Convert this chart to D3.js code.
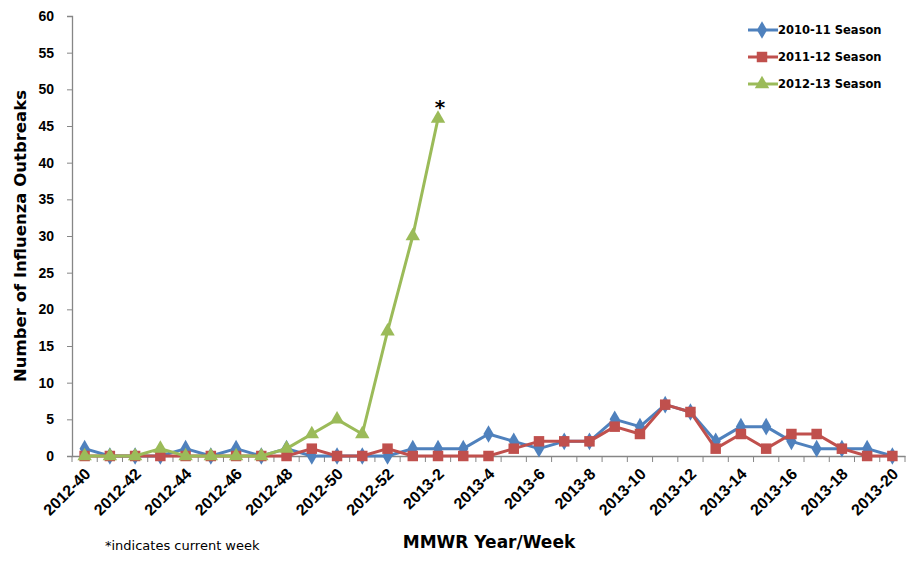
<!DOCTYPE html>
<html>
<head>
<meta charset="utf-8">
<script src="https://cdn.jsdelivr.net/npm/d3@7"></script>
<style>
  body { margin: 0; background: #fff; }
  svg { font-family: "DejaVu Sans", "Open Sans", sans-serif; }
</style>
</head>
<body>
<div id="chart"></div>
<script>
// MMWR weeks 2012-40 .. 2013-20
const weeks = [];
for (let w = 40; w <= 52; w++) weeks.push(`2012-${w}`);
for (let w = 1; w <= 20; w++) weeks.push(`2013-${w}`);

const season1011 = [1,0,0,0,1,0,1,0,1,0,0,0,0,1,1,1,3,2,1,2,2,5,4,7,6,2,4,4,2,1,1,1,0];
const season1112 = [0,0,0,0,0,0,0,0,0,1,0,0,1,0,0,0,0,1,2,2,2,4,3,7,6,1,3,1,3,3,1,0,0];
const season1213 = [0,0,0,1,0,0,0,0,1,3,5,3,17,30,46];

const yTicks = [0,5,10,15,20,25,30,35,40,45,50,55,60];
const seriesNames = ['2010-11 Season', '2011-12 Season', '2012-13 Season'];
const seriesColors = ['#4F81BD', '#C0504D', '#9BBB59'];
const seriesShapes = ['diamond', 'square', 'triangle'];

const width = 920, height = 563;
const margin = {top: 16, right: 15, bottom: 107, left: 72};
const innerW = width - margin.left - margin.right;
const innerH = height - margin.top - margin.bottom;

const svg = d3.select('#chart').append('svg')
  .attr('width', width).attr('height', height);
const g = svg.append('g').attr('transform', `translate(${margin.left},${margin.top})`);

const x = d3.scaleBand().domain(weeks).range([0, innerW]);
const y = d3.scaleLinear().domain([0, 60]).range([innerH, 0]);
const cx = d => x(d) + x.bandwidth() / 2;

// y axis
const yAxis = g.append('g')
  .call(d3.axisLeft(y).tickValues(yTicks).tickSize(5).tickPadding(13));
yAxis.select('.domain').attr('stroke', '#868686').attr('stroke-width', 1.3);
yAxis.selectAll('.tick line').attr('stroke', '#868686');
yAxis.selectAll('.tick text')
  .style('font-size', '14px').style('font-weight', 'bold').attr('fill', '#000');

// x axis
const xAxis = g.append('g').attr('transform', `translate(0,${innerH})`)
  .call(d3.axisBottom(x).tickValues(weeks.filter((d, i) => i % 2 === 0)).tickSize(0).tickPadding(0));
xAxis.select('.domain').attr('stroke', '#868686').attr('stroke-width', 1.3);
xAxis.selectAll('.tick text')
  .style('font-size', '16px').style('font-weight', 'bold').attr('fill', '#000')
  .attr('text-anchor', 'end')
  .attr('transform', 'translate(3,15) rotate(-45)')
  .attr('dy', '0.35em');

const bounds = weeks.map(d => x(d)).concat([x.range()[1]]);
g.append('g').selectAll('line').data(bounds).join('line')
  .attr('x1', d => d).attr('x2', d => d)
  .attr('y1', innerH).attr('y2', innerH + 6)
  .attr('stroke', '#868686');

// axis titles
svg.append('text')
  .attr('transform', 'translate(26,236) rotate(-90)')
  .attr('text-anchor', 'middle')
  .style('font-size', '16.5px').style('font-weight', 'bold')
  .text('Number of Influenza Outbreaks');

svg.append('text')
  .attr('x', 489).attr('y', 548)
  .attr('text-anchor', 'middle')
  .style('font-size', '17px').style('font-weight', 'bold')
  .text('MMWR Year/Week');

svg.append('text')
  .attr('x', 105).attr('y', 550)
  .style('font-size', '13px')
  .text('*indicates current week');

// series
const series = [season1011, season1112, season1213];
const symbolFor = {
  diamond: d3.symbol().type(d3.symbolDiamond).size(90),
  square: d3.symbol().type(d3.symbolSquare).size(110),
  triangle: d3.symbol().type(d3.symbolTriangle).size(90)
};

const line = d3.line().x((d, i) => cx(weeks[i])).y(d => y(d));

series.forEach((vals, s) => {
  const sg = g.append('g');
  sg.append('path').datum(vals)
    .attr('d', line)
    .attr('fill', 'none')
    .attr('stroke', seriesColors[s])
    .attr('stroke-width', 3)
    .attr('stroke-linejoin', 'round');
  sg.selectAll('path.mark').data(vals).join('path')
    .attr('class', 'mark')
    .attr('d', symbolFor[seriesShapes[s]])
    .attr('transform', (d, i) => `translate(${cx(weeks[i])},${y(d)})`)
    .attr('fill', seriesColors[s]);
});

// current week marker
const lastIdx = season1213.length - 1;
g.append('text')
  .attr('x', cx(weeks[lastIdx]) + 2)
  .attr('y', y(season1213[lastIdx]) - 5)
  .attr('text-anchor', 'middle')
  .style('font-size', '20px').style('font-weight', 'bold')
  .text('*');

// legend
const legend = svg.append('g').attr('transform', 'translate(748,30)');
seriesNames.forEach((name, s) => {
  const lg = legend.append('g').attr('transform', `translate(0,${s * 27})`);
  lg.append('line').attr('x1', 0).attr('x2', 30).attr('y1', 0).attr('y2', 0)
    .attr('stroke', seriesColors[s]).attr('stroke-width', 3);
  lg.append('path').attr('d', symbolFor[seriesShapes[s]])
    .attr('transform', 'translate(14,0)').attr('fill', seriesColors[s]);
  lg.append('text').attr('x', 30).attr('y', 0).attr('dy', '0.35em')
    .style('font-size', '11.5px').style('font-weight', 'bold')
    .text(name);
});
</script>
</body>
</html>
